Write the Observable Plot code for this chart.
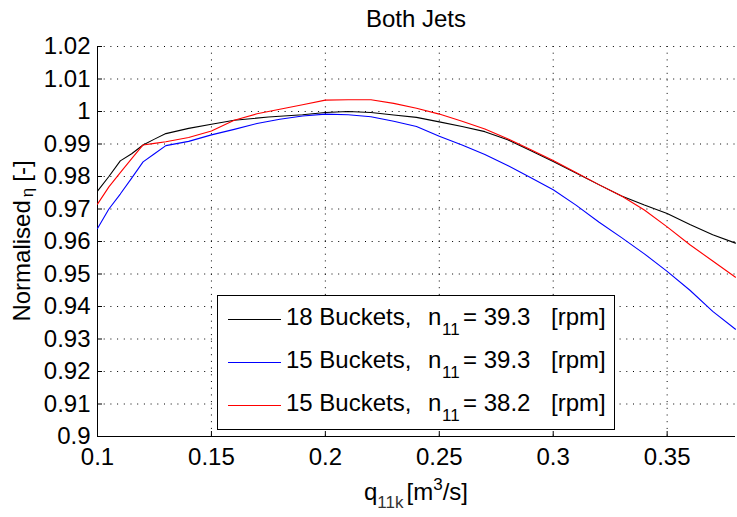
<!DOCTYPE html>
<html>
<head>
<meta charset="utf-8">
<script src="https://cdn.jsdelivr.net/npm/d3@7"></script>
<script src="https://cdn.jsdelivr.net/npm/@observablehq/plot@0.6"></script>
<style>
  html, body { margin: 0; padding: 0; background: #fff; }
  #chart svg { display: block; }
</style>
</head>
<body>
<div id="chart"></div>
<script>
// Flow coefficient q11k [m^3/s] and normalised efficiency for each runner setup
const q18_393 = [0.100, 0.105, 0.110, 0.115, 0.120, 0.125, 0.130, 0.140, 0.150, 0.160, 0.175, 0.190, 0.200, 0.210, 0.220, 0.230, 0.240, 0.250, 0.260, 0.270, 0.280, 0.290, 0.300, 0.310, 0.320, 0.330, 0.340, 0.350, 0.360, 0.370, 0.380];
const eta18_393 = [0.9755, 0.9800, 0.9848, 0.9870, 0.9897, 0.9915, 0.9932, 0.9948, 0.9961, 0.9973, 0.9983, 0.9990, 0.9997, 1.0000, 0.9997, 0.9989, 0.9982, 0.9968, 0.9954, 0.9938, 0.9913, 0.9880, 0.9846, 0.9811, 0.9775, 0.9740, 0.9712, 0.9686, 0.9652, 0.9621, 0.9595];

const q15_393 = [0.100, 0.105, 0.110, 0.115, 0.120, 0.125, 0.130, 0.140, 0.150, 0.160, 0.170, 0.180, 0.190, 0.200, 0.210, 0.220, 0.230, 0.240, 0.250, 0.260, 0.270, 0.280, 0.290, 0.300, 0.310, 0.320, 0.330, 0.340, 0.350, 0.360, 0.370, 0.380];
const eta15_393 = [0.9640, 0.9700, 0.9746, 0.9795, 0.9845, 0.9870, 0.9895, 0.9908, 0.9928, 0.9945, 0.9963, 0.9976, 0.9986, 0.9992, 0.9990, 0.9984, 0.9970, 0.9954, 0.9924, 0.9897, 0.9868, 0.9834, 0.9797, 0.9759, 0.9712, 0.9660, 0.9612, 0.9562, 0.9508, 0.9450, 0.9385, 0.9330];

const q15_382 = [0.100, 0.105, 0.110, 0.115, 0.120, 0.125, 0.130, 0.140, 0.150, 0.160, 0.170, 0.180, 0.190, 0.200, 0.210, 0.220, 0.230, 0.240, 0.250, 0.260, 0.270, 0.280, 0.290, 0.300, 0.310, 0.320, 0.330, 0.340, 0.350, 0.360, 0.370, 0.380];
const eta15_382 = [0.9715, 0.9768, 0.9812, 0.9855, 0.9897, 0.9902, 0.9907, 0.9920, 0.9940, 0.9973, 0.9993, 1.0007, 1.0021, 1.0035, 1.0036, 1.0036, 1.0025, 1.0010, 0.9992, 0.9970, 0.9946, 0.9916, 0.9883, 0.9849, 0.9812, 0.9775, 0.9740, 0.9697, 0.9645, 0.9590, 0.9540, 0.9490];

// Legend entries: bucket count and unit speed n11
const seriesBuckets = ["18 Buckets,", "15 Buckets,", "15 Buckets,"];
const seriesN11 = ["= 39.3", "= 39.3", "= 38.2"];
const seriesColors = ["#000000", "#0000ff", "#ff0000"];
const seriesQ = [q18_393, q15_393, q15_382];
const seriesEta = [eta18_393, eta15_393, eta15_382];
const seriesKeys = ["s18_393", "s15_393", "s15_382"];

// Axis ticks
const xTicks = [0.1, 0.15, 0.2, 0.25, 0.3, 0.35];
const yTicks = [0.9, 0.91, 0.92, 0.93, 0.94, 0.95, 0.96, 0.97, 0.98, 0.99, 1.0, 1.01, 1.02];
const xDomain = [0.1, 0.38];
const yDomain = [0.9, 1.02];

const rows = seriesKeys.flatMap((key, i) =>
  seriesQ[i].map((q, j) => ({series: key, q, eta: seriesEta[i][j]}))
);

const W = 737, H = 517;
const mL = 97, mR = 2, mT = 46, mB = 81;
const plotW = W - mL - mR, plotH = H - mT - mB;
const fmt = d => String(+d.toFixed(2));
const FONT = "'Liberation Sans', Arial, Helvetica, sans-serif";
const gridStyle = {stroke: "#000", strokeOpacity: 1, strokeWidth: 1, strokeDasharray: "1 5.7"};

const plot = Plot.plot({
  width: W,
  height: H,
  marginLeft: mL,
  marginRight: mR,
  marginTop: mT,
  marginBottom: mB,
  style: {fontFamily: FONT, fontSize: "24px", color: "#000", background: "#fff"},
  x: {domain: xDomain},
  y: {domain: yDomain},
  color: {domain: seriesKeys, range: seriesColors},
  marks: [
    Plot.gridX(xTicks, gridStyle),
    Plot.gridY(yTicks, gridStyle),
    // inward tick marks along the two axes
    Plot.tickX(xTicks, {x: d => d, insetTop: plotH - 5, stroke: "#000"}),
    Plot.tickY(yTicks, {y: d => d, insetRight: plotW - 5, stroke: "#000"}),
    Plot.axisX(xTicks, {tickSize: 0, tickPadding: 11, tickFormat: fmt, label: null}),
    Plot.axisY(yTicks, {tickSize: 0, tickPadding: 7, tickFormat: fmt, label: null}),
    Plot.ruleX([xDomain[0]], {stroke: "#000"}),
    Plot.ruleY([yDomain[0]], {stroke: "#000"}),
    Plot.line(rows, {x: "q", y: "eta", z: "series", stroke: "series", strokeWidth: 1.1})
  ]
});

const svg = d3.select(plot);
svg.attr("font-family", FONT);

// Title
svg.append("text")
  .attr("x", mL + plotW / 2).attr("y", 27)
  .attr("text-anchor", "middle").attr("font-size", 24).attr("fill", "#000")
  .text("Both Jets");

// X axis label with subscript and superscript
const xl = svg.append("text")
  .attr("x", mL + plotW / 2).attr("y", 500)
  .attr("text-anchor", "middle").attr("font-size", 24).attr("fill", "#000");
xl.append("tspan").text("q");
xl.append("tspan").attr("font-size", 17).attr("dy", 8).attr("fill", "#333").text("11k");
xl.append("tspan").attr("dy", -8).attr("dx", 3).text("[m");
xl.append("tspan").attr("font-size", 17).attr("dy", -10).text("3");
xl.append("tspan").attr("dy", 10).text("/s]");

// Y axis label
const yl = svg.append("text")
  .attr("transform", `translate(30,${mT + plotH / 2}) rotate(-90)`)
  .attr("text-anchor", "middle").attr("font-size", 24).attr("fill", "#000");
yl.append("tspan").text("Normalised");
yl.append("tspan").attr("font-size", 17).attr("dy", 3).attr("dx", 3).text("η");
yl.append("tspan").attr("dy", -3).attr("dx", 6).text("[-]");

// Legend box
const lg = svg.append("g").attr("text-anchor", "start");
lg.append("rect")
  .attr("x", 217.5).attr("y", 295.5).attr("width", 397).attr("height", 134)
  .attr("fill", "#fff").attr("stroke", "#000").attr("stroke-width", 1);
const rowY = [319, 362, 405];
seriesKeys.forEach((key, i) => {
  const y = rowY[i];
  lg.append("line")
    .attr("x1", 228).attr("x2", 281).attr("y1", y + 0.5).attr("y2", y + 0.5)
    .attr("stroke", seriesColors[i]).attr("stroke-width", 1.1);
  const t = (x, dy, size, str) => lg.append("text")
    .attr("x", x).attr("y", y + dy).attr("text-anchor", "start")
    .attr("font-size", size).attr("fill", "#000").text(str);
  t(286, 6, 24, seriesBuckets[i]);
  t(428, 6, 24, "n");
  t(442, 16, 17, "11");
  t(463, 6, 24, seriesN11[i]);
  t(551, 6, 24, "[rpm]");
});

document.getElementById("chart").append(plot);
</script>
</body>
</html>
